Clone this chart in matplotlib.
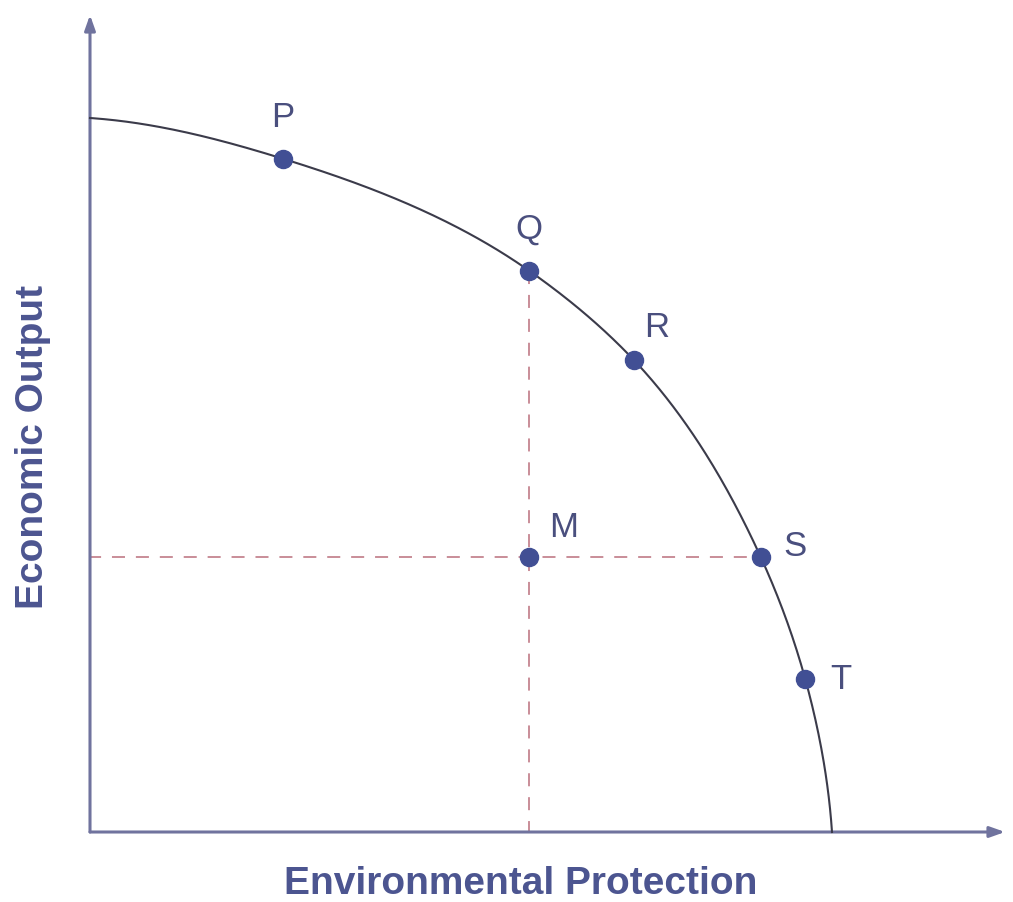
import numpy as np
import matplotlib
matplotlib.use("Agg")
import matplotlib.pyplot as plt

# ---- data (axis units: origin = 0, frontier hits 10 on each axis) ----
curve_x = [0.0, 2.60, 5.92, 7.33, 9.04, 9.64, 10.0]
curve_y = [10.0, 9.43, 7.86, 6.61, 3.85, 2.14, 0.0]

pt_names = ["P", "Q", "R", "S", "T", "M"]
pt_x = [2.60, 5.92, 7.33, 9.04, 9.64, 5.92]
pt_y = [9.43, 7.86, 6.61, 3.85, 2.14, 3.85]
# label offsets in pixels from each dot
lab_dx = [0, 0, 23, 34, 36, 34]
lab_dy = [41, 42, 33, 11, 0, 30]

xlabel = "Environmental Protection"
ylabel = "Economic Output"

NAVY = "#414f94"
TXT = "#4c5590"
AXC = "#70739e"
DASH = "#c98d98"

# ---- figure: one axes filling the canvas, limits chosen so origin sits at (90, 832) px ----
W, H = 1013, 902
fig = plt.figure(figsize=(W / 100, H / 100), dpi=100)
ax = fig.add_axes([0, 0, 1, 1])
sx, sy = 74.2, 71.4                      # px per unit
ax.set_xlim(-90 / sx, (W - 90) / sx)
ax.set_ylim(-(H - 832) / sy, 832 / sy)
ax.axis("off")

# axes with arrows
x_end, y_end = (1005 - 90) / sx, (832 - 15) / sy
for tip in [(x_end, 0), (0, y_end)]:
    ax.annotate("", xy=tip, xytext=(0, 0),
                arrowprops=dict(arrowstyle="-|>,head_length=0.9,head_width=0.32",
                                color=AXC, lw=2.2, shrinkA=0, shrinkB=0))

# frontier: smooth the knots in polar form (radius vs angle), cubic Hermite
kx, ky = np.array(curve_x) * sx, np.array(curve_y) * sy
th, r = np.arctan2(ky, kx), np.hypot(kx, ky)
o = np.argsort(th)
th, r = th[o], r[o]
dr = np.gradient(r, th)
tt = np.linspace(th[0], th[-1], 400)
seg = np.clip(np.searchsorted(th, tt) - 1, 0, len(th) - 2)
h = th[seg + 1] - th[seg]
u = (tt - th[seg]) / h
rr = ((2 * u**3 - 3 * u**2 + 1) * r[seg] + (u**3 - 2 * u**2 + u) * h * dr[seg]
      + (-2 * u**3 + 3 * u**2) * r[seg + 1] + (u**3 - u**2) * h * dr[seg + 1])
ax.plot(rr * np.cos(tt) / sx, rr * np.sin(tt) / sy, color="#3b3b4a", lw=1.5, zorder=3)

# dashed guides through M
q, s, mm = 1, 3, 5
ax.plot([0, pt_x[s]], [pt_y[mm], pt_y[s]], color=DASH, lw=1.4,
        ls=(1, (6.7, 5.6)), zorder=2)
ax.plot([pt_x[q], pt_x[mm]], [pt_y[q], 0], color=DASH, lw=1.4,
        ls=(0, (6.7, 5.6)), zorder=2)

# points and labels
ax.plot(pt_x, pt_y, "o", ms=13, color=NAVY, mec=NAVY, zorder=4)
for name, x, y, dx, dy in zip(pt_names, pt_x, pt_y, lab_dx, lab_dy):
    ax.annotate(name, (x, y), xytext=(dx, dy), textcoords="offset pixels",
                ha="center", va="center", fontsize=25, color="#4a4f7e",
                family="Liberation Sans")

# axis titles
ax.text((521 - 90) / sx, -(884 - 832) / sy, xlabel, ha="center", va="center",
        fontsize=28, fontweight="bold", color=TXT, family="Liberation Sans")
ax.text((33 - 90) / sx, (832 - 447) / sy, ylabel, ha="center", va="center",
        rotation=90, fontsize=28, fontweight="bold", color=TXT, family="Liberation Sans")

fig.savefig("out.png", dpi=100)
